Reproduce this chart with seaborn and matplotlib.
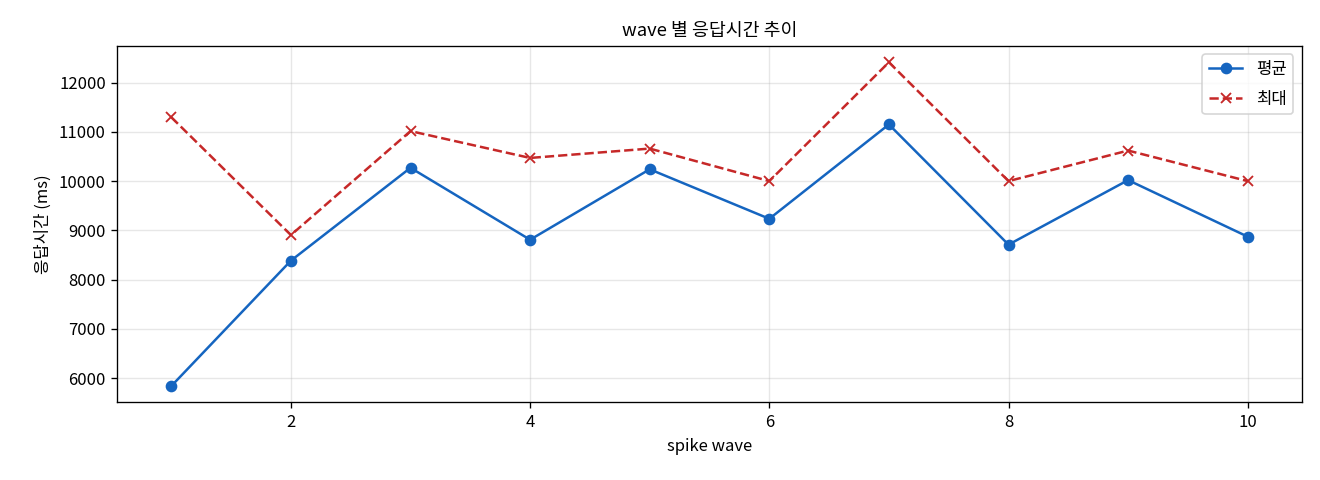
import numpy as np
import pandas as pd
import matplotlib
matplotlib.use("Agg")
import matplotlib.pyplot as plt
import seaborn as sns

waves = [1, 2, 3, 4, 5, 6, 7, 8, 9, 10]
avg_ms = [5840, 8385, 10270, 8810, 10240, 9235, 11150, 8710, 10020, 8872]
max_ms = [11296, 8905, 11015, 10470, 10660, 10000, 12412, 10000, 10620, 10000]

plt.rcParams['font.family'] = ['Noto Sans CJK KR', 'DejaVu Sans']
plt.rcParams['axes.unicode_minus'] = False

fig, ax = plt.subplots(figsize=(11, 4), dpi=120)
df = pd.DataFrame({'wave': waves, 'avg': avg_ms, 'max': max_ms})

sns.lineplot(data=df, x='wave', y='avg', ax=ax, marker='o', color='#1565C0',
             linewidth=1.5, markersize=6, markeredgewidth=1, markeredgecolor='#1565C0',
             label='평균')
sns.lineplot(data=df, x='wave', y='max', ax=ax, marker='x', linestyle='--',
             color='#C62828', linewidth=1.5, markersize=6, markeredgewidth=1.1,
             markeredgecolor='#C62828', label='최대')

ax.set_title('wave 별 응답시간 추이', fontsize=11)
ax.set_xlabel('spike wave', fontsize=10)
ax.set_ylabel('응답시간 (ms)', fontsize=10)
ax.grid(True, alpha=0.3)
ax.legend(loc='upper right', fontsize=10, labelspacing=0.75)
fig.subplots_adjust(left=0.089, right=0.986, top=0.904, bottom=0.162)
fig.savefig('out.png', dpi=120)
